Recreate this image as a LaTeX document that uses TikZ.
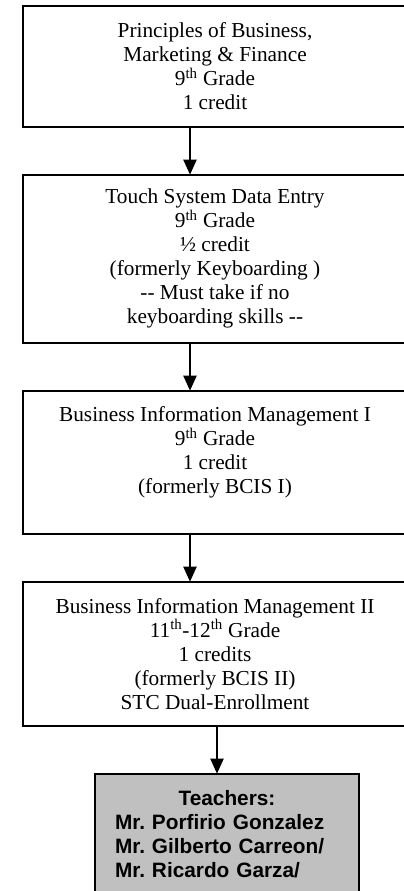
\documentclass[tikz,border=0pt]{standalone}
\usepackage{fontspec}
\setmainfont{Liberation Serif}
\setsansfont{Liberation Sans}
\usepackage{xcolor}
\usepackage{tikz}
\usetikzlibrary{positioning, arrows.meta}
\definecolor{teachgray}{RGB}{192,192,192}
\frenchspacing

\begin{document}
\begin{tikzpicture}[auto, node distance = 48pt, line width = 2pt, >={Triangle[width=13pt,length=15pt]}, course/.style ={rectangle, draw, outer sep=0pt, minimum width=385pt, align=center, font=\fontsize{21.3}{24}\selectfont}, sh/.style={rectangle, draw, fill=teachgray, outer sep=0pt, inner xsep=20pt, inner ysep=17pt, text width=224pt, align=left, font=\sffamily\bfseries\fontsize{20.8}{24}\selectfont}]
\useasboundingbox (0,0) rectangle (404pt,-891pt);
\clip (0,0) rectangle (404pt,-891pt);
\node[course, minimum height=121pt, anchor=north west] (A) at (22.5pt,-5.7pt) {Principles of Business,\\ Marketing \& Finance\\ 9\textsuperscript{th} Grade\\ 1 credit};
\node[course, minimum height=168pt] (B) [below = of A] {Touch System Data Entry\\ 9\textsuperscript{th} Grade\\ ½ credit\\ (formerly Keyboarding )\\ -{}- Must take if no\\ keyboarding skills -{}-};
\node[course, minimum height=143pt] (C) [below = of B] {Business Information Management I\\ 9\textsuperscript{th} Grade\\ 1 credit\\ (formerly BCIS I)\\ \mbox{}};
\node[course, minimum height=144pt] (D) [below = of C] {Business Information Management II\\ 11\textsuperscript{th}-12\textsuperscript{th} Grade\\ 1 credits\\ (formerly BCIS II)\\ STC Dual-Enrollment};
\node[sh] (E) [below = of D, xshift = 12pt] {\makebox[224pt]{Teachers:}\\ Mr. Porfirio Gonzalez\\ Mr. Gilberto Carreon/\\ Mr. Ricardo Garza/};
\path ([xshift=-25pt]A.south) edge[->] ([xshift=-25pt]B.north)
([xshift=-25pt]B.south) edge[->] ([xshift=-25pt]C.north)
([xshift=-25pt]C.south) edge[->] ([xshift=-25pt]D.north)
([xshift=2pt]D.south) edge[->] ([xshift=-10pt]E.north);
\end{tikzpicture}
\end{document}
